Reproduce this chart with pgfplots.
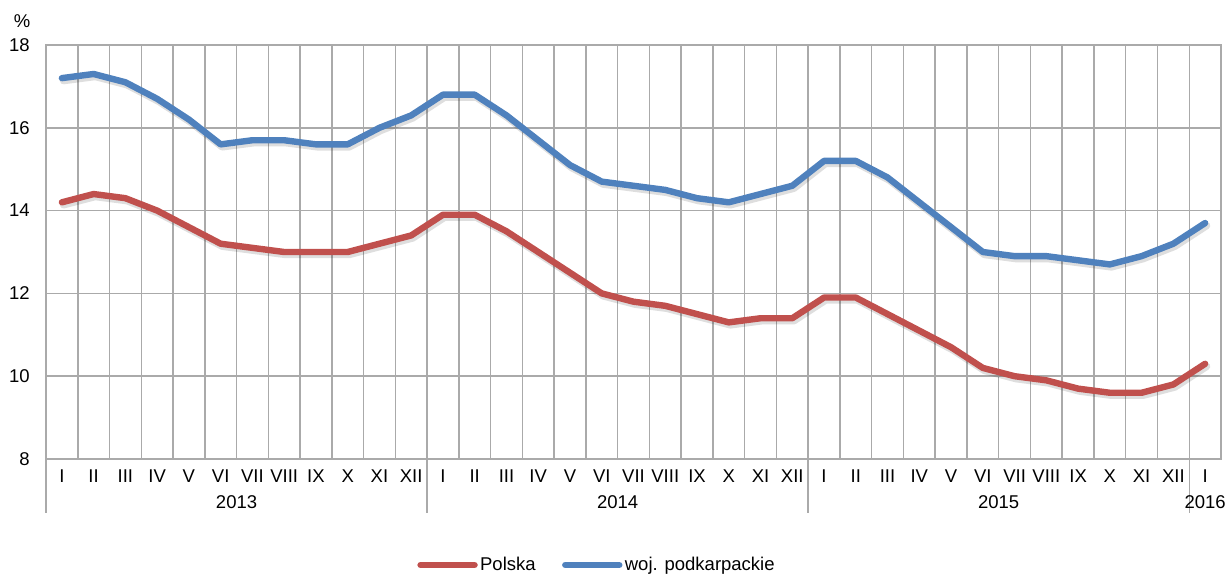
\documentclass[border=0pt]{standalone}
\usepackage{fontspec}
\setmainfont{Liberation Sans}
\usepackage{pgfplots}
\usepackage{pgfplotstable}
\pgfplotsset{compat=1.18}
\definecolor{polska}{RGB}{192,80,77}
\definecolor{podk}{RGB}{79,129,189}
\definecolor{gridgray}{RGB}{170,170,170}

% stopa bezrobocia, I 2013 - I 2016
\pgfplotstableread{
x polska podk
0  14.2 17.2
1  14.4 17.3
2  14.3 17.1
3  14.0 16.7
4  13.6 16.2
5  13.2 15.6
6  13.1 15.7
7  13.0 15.7
8  13.0 15.6
9  13.0 15.6
10 13.2 16.0
11 13.4 16.3
12 13.9 16.8
13 13.9 16.8
14 13.5 16.3
15 13.0 15.7
16 12.5 15.1
17 12.0 14.7
18 11.8 14.6
19 11.7 14.5
20 11.5 14.3
21 11.3 14.2
22 11.4 14.4
23 11.4 14.6
24 11.9 15.2
25 11.9 15.2
26 11.5 14.8
27 11.1 14.2
28 10.7 13.6
29 10.2 13.0
30 10.0 12.9
31 9.9  12.9
32 9.7  12.8
33 9.6  12.7
34 9.6  12.9
35 9.8  13.2
36 10.3 13.7
}\dane

\begin{document}
\begin{tikzpicture}[font=\fontsize{9.25}{11}\selectfont]
\begin{axis}[
  at={(0,0)}, anchor=south west, scale only axis,
  width=587.5pt, height=207pt,
  xmin=-0.5, xmax=36.5, ymin=8, ymax=18,
  ytick={8,10,...,18}, xtick={0,...,36},
  xticklabels={I,II,III,IV,V,VI,VII,VIII,IX,X,XI,XII,I,II,III,IV,V,VI,VII,VIII,IX,X,XI,XII,I,II,III,IV,V,VI,VII,VIII,IX,X,XI,XII,I},
  minor xtick={-0.5,0.5,...,36.5},
  xminorgrids, ymajorgrids,
  grid style={gridgray, line width=0.75pt},
  minor grid style={gridgray, line width=0.75pt},
  axis line style={gridgray, line width=0.75pt},
  major tick length=0pt, minor tick length=0pt,
  xticklabel style={anchor=base, yshift=-11.5pt},
  yticklabel style={anchor=east, inner sep=0pt, xshift=-8pt},
  /pgf/number format/assume math mode=true,
  clip=false,
  legend columns=2,
  legend style={at={(0.3157,-0.256)}, anchor=west, draw=none, fill=none, inner sep=0pt,
    nodes={inner sep=1.2pt},
    /tikz/every even column/.append style={column sep=12pt}},
  legend image code/.code={\draw[#1, line cap=round] (0pt,0pt) -- (27pt,0pt);},
]
% cienie
\addplot[black, opacity=0.13, line width=3.6pt, line join=round, line cap=round, forget plot, xshift=0.8pt, yshift=-1.3pt] table[x=x, y=polska] {\dane};
\addplot[black, opacity=0.13, line width=3.6pt, line join=round, line cap=round, forget plot, xshift=0.8pt, yshift=-1.3pt] table[x=x, y=podk] {\dane};
\addplot[polska, line width=3.2pt, line join=round, line cap=round] table[x=x, y=polska] {\dane};
\addlegendentry{Polska}
\addplot[podk, line width=3.2pt, line join=round, line cap=round] table[x=x, y=podk] {\dane};
\addlegendentry{woj. podkarpackie}

\draw[gridgray, line width=0.75pt] (axis cs:-0.5,8) -- ++(0pt,-27pt);
\draw[gridgray, line width=0.75pt] (axis cs:11.5,8) -- ++(0pt,-27pt);
\draw[gridgray, line width=0.75pt] (axis cs:23.5,8) -- ++(0pt,-27pt);
\draw[gridgray, line width=0.75pt] (axis cs:35.5,8) -- ++(0pt,-27pt);
\node[anchor=base, yshift=-24.5pt] at (axis cs:5.5,8) {2013};
\node[anchor=base, yshift=-24.5pt] at (axis cs:17.5,8) {2014};
\node[anchor=base, yshift=-24.5pt] at (axis cs:29.5,8) {2015};
\node[anchor=base, yshift=-24.5pt] at (axis cs:36,8) {2016};
\node[xshift=-12pt, yshift=12pt] at (axis cs:-0.5,18) {\%};
\end{axis}
\pgfresetboundingbox
\path (-23pt,-57.5pt) rectangle (590pt,229.5pt);
\end{tikzpicture}
\end{document}
